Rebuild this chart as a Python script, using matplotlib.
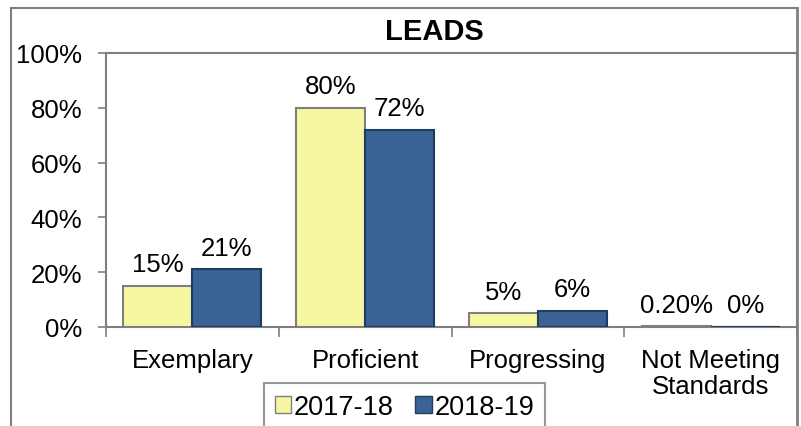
import matplotlib
matplotlib.use("Agg")
import matplotlib.pyplot as plt
from matplotlib.lines import Line2D
from matplotlib.patches import Patch
import numpy as np

categories = ["Exemplary", "Proficient", "Progressing", "Not Meeting\nStandards"]
series_names = ["2017-18", "2018-19"]
values_1718 = [0.15, 0.80, 0.05, 0.002]
values_1819 = [0.21, 0.72, 0.06, 0.0]
labels_1718 = ["15%", "80%", "5%", "0.20%"]
labels_1819 = ["21%", "72%", "6%", "0%"]
yticks = [0, 0.2, 0.4, 0.6, 0.8, 1.0]
ytick_labels = ["0%", "20%", "40%", "60%", "80%", "100%"]

plt.rcParams['font.family'] = ['Liberation Sans', 'DejaVu Sans']

W, H = 801, 427
fig = plt.figure(figsize=(W/100, H/100), dpi=100)
ax = fig.add_axes([106/W, 1-328/H, (797-106)/W, (328-54)/H])

yellow = "#F7F7A1"
blue = "#3A6294"
edge = "#7F7F7F"
x = np.arange(len(categories))
bw = 0.4
b1 = ax.bar(x - bw/2, values_1718, bw, color=yellow, edgecolor=edge, linewidth=1.5, zorder=3)
b2 = ax.bar(x + bw/2, values_1819, bw, color=blue, edgecolor="#1F3B5E", linewidth=1.5, zorder=3)

for bars, labs in ((b1, labels_1718), (b2, labels_1819)):
    for r, lab in zip(bars, labs):
        ax.annotate(lab, (r.get_x() + r.get_width()/2, r.get_height()),
                    xytext=(0, 7), textcoords="offset points",
                    ha="center", va="bottom", fontsize=18.5, color="black")

ax.set_xlim(-0.5, len(categories) - 0.5)
ax.set_ylim(0, 1.0)
ax.set_yticks(yticks)
ax.set_yticklabels(ytick_labels, fontsize=18.5)
ax.set_xticks(x)
ax.set_xticklabels(categories, fontsize=18.5, linespacing=1.1)
ax.set_xticks(np.arange(len(categories) + 1) - 0.5, minor=True)
ax.tick_params(axis="x", which="major", length=0, pad=15)
ax.tick_params(axis="x", which="minor", length=7, color=edge, width=1.2)
ax.tick_params(axis="y", length=6, color=edge, width=1.2, pad=11)
for s in ["left", "bottom", "top", "right"]:
    ax.spines[s].set_color(edge)
    ax.spines[s].set_linewidth(1.5)

fig.text(434/W, 1-32/H, "LEADS", ha="center", va="center",
         fontsize=21, fontweight="bold")

# outer chart frame
fig.add_artist(Line2D([11/W, 11/W], [0, 1-9/H], color=edge, lw=1.5, transform=fig.transFigure))
fig.add_artist(Line2D([11/W, 797/W], [1-9/H, 1-9/H], color=edge, lw=1.5, transform=fig.transFigure))
fig.add_artist(Line2D([797/W, 797/W], [0, 1-9/H], color=edge, lw=2, transform=fig.transFigure))

handles = [Patch(facecolor=yellow, edgecolor=edge), Patch(facecolor=blue, edgecolor="#1F3B5E")]
leg = fig.legend(handles, series_names, loc="upper left", bbox_to_anchor=(264/W, 1-384/H),
                 ncol=2, fontsize=19.5, frameon=True, fancybox=False, edgecolor=edge,
                 handlelength=0.6, handleheight=0.6, handletextpad=0.1, columnspacing=0.8,
                 borderpad=0.4, borderaxespad=0)
leg.get_frame().set_linewidth(1.5)

fig.savefig("out.png", dpi=100)
